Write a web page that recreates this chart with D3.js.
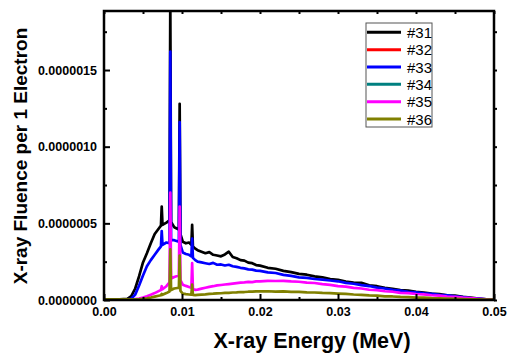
<!DOCTYPE html>
<html>
<head>
<meta charset="utf-8">
<script src="https://cdn.jsdelivr.net/npm/d3@7"></script>
<style>
  body { margin: 0; background: #fff; }
  svg { display: block; font-family: "Liberation Sans", Arial, sans-serif; }
</style>
</head>
<body>
<svg id="chart" width="508" height="356"></svg>
<script>
// energy grid (MeV)
const energy = [
  0, 0.001, 0.002, 0.003, 0.0035, 0.004, 0.0045, 0.005, 0.0055, 0.006, 0.0065, 0.007,
  0.0073, 0.0074, 0.0075, 0.008, 0.0084, 0.0085, 0.0086, 0.009, 0.0096, 0.0097, 0.0098,
  0.0101, 0.0105, 0.0109, 0.0112, 0.0113, 0.0114, 0.0117,
  0.012, 0.0125, 0.013, 0.0135, 0.014, 0.0145, 0.015, 0.0155, 0.016, 0.0165, 0.017,
  0.0175, 0.018, 0.0185, 0.019, 0.0195,
  0.020, 0.021, 0.022, 0.023, 0.024, 0.025, 0.026, 0.027, 0.028, 0.029, 0.030,
  0.031, 0.032, 0.033, 0.034, 0.035, 0.036, 0.037, 0.038, 0.039, 0.040,
  0.041, 0.042, 0.043, 0.044, 0.045, 0.046, 0.047, 0.048, 0.049, 0.050
]

// fluence values, in units of 1e-7 per electron
const s31 = [
  0.04, 0.04, 0.05, 0.08, 0.25, 0.75, 1.55, 2.45, 3.05, 3.7, 4.3, 4.65,
  4.85, 6.1, 4.9, 5.05, 5.2, 19.6, 5.1, 4.75, 4.6, 12.8, 4.3,
  3.8, 3.7, 3.75, 3.6, 4.9, 3.5, 3.35,
  3.25, 3.15, 3.05, 3.12, 2.95, 2.9, 2.85, 2.97, 3.15, 2.8, 2.72,
  2.6, 2.57, 2.44, 2.4, 2.28,
  2.24, 2.1, 2.04, 1.9, 1.82, 1.7, 1.65, 1.54, 1.48, 1.36, 1.32,
  1.2, 1.14, 1.12, 0.96, 0.9, 0.79, 0.73, 0.65, 0.62, 0.53,
  0.49, 0.42, 0.39, 0.31, 0.28, 0.2, 0.16, 0.1, 0.05, 0.01
]
const s32 = s31.slice()
const s33 = [
  0.04, 0.04, 0.04, 0.05, 0.08, 0.35, 0.95, 1.6, 2.2, 2.6, 2.95, 3.3,
  3.5, 4.5, 3.6, 3.75, 3.7, 16.2, 3.9, 3.9, 3.8, 11.6, 3.6,
  3.1, 3.0, 2.95, 2.85, 4.0, 2.75, 2.6,
  2.5, 2.45, 2.4, 2.35, 2.42, 2.3, 2.32, 2.25, 2.3, 2.2, 2.16,
  2.1, 2.06, 2.0, 1.98, 1.92,
  1.9, 1.8, 1.76, 1.64, 1.57, 1.48, 1.44, 1.37, 1.33, 1.27, 1.22,
  1.12, 1.06, 0.97, 0.91, 0.81, 0.75, 0.66, 0.61, 0.54, 0.5,
  0.43, 0.4, 0.33, 0.3, 0.24, 0.19, 0.13, 0.09, 0.05, 0.01
]
const s35 = [
  0.04, 0.04, 0.04, 0.04, 0.05, 0.06, 0.1, 0.16, 0.25, 0.35, 0.45, 0.58,
  0.65, 0.9, 0.7, 0.9, 1.15, 7.0, 1.4, 1.5, 1.6, 6.1, 1.3,
  1.0, 0.92, 0.85, 0.8, 2.4, 0.72, 0.66,
  0.68, 0.74, 0.8, 0.86, 0.9, 0.95, 0.98, 1.01, 1.04, 1.07, 1.1,
  1.13, 1.15, 1.18, 1.17, 1.21,
  1.22, 1.25, 1.24, 1.25, 1.21, 1.19, 1.13, 1.11, 1.03, 0.99, 0.91,
  0.87, 0.79, 0.75, 0.67, 0.64, 0.57, 0.54, 0.47, 0.45, 0.39,
  0.37, 0.31, 0.29, 0.23, 0.21, 0.15, 0.12, 0.08, 0.05, 0.01
]
const s36 = [
  0.04, 0.04, 0.04, 0.04, 0.04, 0.05, 0.06, 0.08, 0.11, 0.16, 0.22, 0.28,
  0.31, 0.4, 0.34, 0.45, 0.55, 3.3, 0.65, 0.75, 0.8, 2.9, 0.6,
  0.42, 0.38, 0.36, 0.35, 1.0, 0.34, 0.32,
  0.33, 0.35, 0.37, 0.4, 0.41, 0.43, 0.44, 0.46, 0.47, 0.49, 0.5,
  0.52, 0.52, 0.54, 0.55, 0.56,
  0.56, 0.57, 0.55, 0.56, 0.53, 0.53, 0.5, 0.49, 0.46, 0.45, 0.42,
  0.4, 0.36, 0.34, 0.3, 0.28, 0.24, 0.23, 0.2, 0.19, 0.16,
  0.15, 0.12, 0.11, 0.09, 0.08, 0.06, 0.05, 0.04, 0.03, 0.02
]
const s34 = s36.slice()

const series_names = ["#31", "#32", "#33", "#34", "#35", "#36"]
const series_values = [s31, s32, s33, s34, s35, s36]
const series_colors = ["#000000", "#ff0000", "#0000ff", "#008080", "#ff00ff", "#808000"]
// #32 lies under #31, #34 under #36 (drawn thinner so no fringe shows)
const draw_order = [1, 0, 2, 3, 4, 5]
const hidden = [1, 3]

const x_ticks = [0, 0.01, 0.02, 0.03, 0.04, 0.05]
const x_minor = [0.005, 0.015, 0.025, 0.035, 0.045]
const y_ticks = [0, 5e-7, 10e-7, 15e-7]
const y_minor = [2.5e-7, 7.5e-7, 12.5e-7, 17.5e-7]

const unit = 1e-7
const margin = {top: 11, right: 14, bottom: 56, left: 104}
const width = 508 - margin.left - margin.right
const height = 356 - margin.top - margin.bottom

const svg = d3.select("#chart")
const g = svg.append("g").attr("transform", `translate(${margin.left},${margin.top})`)

const x = d3.scaleLinear().domain([0, 0.05]).range([0, width])
const y = d3.scaleLinear().domain([0, 18.85e-7]).range([height, 0])

svg.append("defs").append("clipPath").attr("id", "plot-clip")
  .append("rect").attr("width", width).attr("height", height)

// curves
const line = d3.line()
  .x((d, i) => x(energy[i]))
  .y(d => y(d * unit))

const curves = g.append("g").attr("clip-path", "url(#plot-clip)")
draw_order.forEach(k => {
  curves.append("path")
    .datum(series_values[k])
    .attr("fill", "none")
    .attr("stroke", series_colors[k])
    .attr("stroke-width", hidden.includes(k) ? 1.2 : 2.7)
    .attr("stroke-linejoin", "round")
    .attr("d", line)
})

// axes
function style_axis(sel) {
  sel.select(".domain").remove()
  sel.selectAll(".tick line").attr("stroke", "#000").attr("stroke-width", 2)
  sel.selectAll(".tick text")
    .attr("fill", "#000")
    .attr("font-size", "12.5px")
    .attr("font-weight", "bold")
}

g.append("g")
  .attr("transform", `translate(0,${height})`)
  .call(d3.axisBottom(x).tickValues(x_ticks).tickFormat(d3.format(".2f")).tickSize(-6).tickPadding(7))
  .call(style_axis)
g.append("g")
  .attr("transform", `translate(0,${height})`)
  .call(d3.axisBottom(x).tickValues(x_minor).tickFormat("").tickSize(-3))
  .call(style_axis)

g.append("g")
  .call(d3.axisLeft(y).tickValues(y_ticks).tickFormat(d3.format(".7f")).tickSize(-6).tickPadding(7))
  .call(style_axis)
g.append("g")
  .call(d3.axisLeft(y).tickValues(y_minor).tickFormat("").tickSize(-3))
  .call(style_axis)

// mirrored ticks on top and right
g.append("g")
  .call(d3.axisTop(x).tickValues(x_ticks.concat(x_minor)).tickFormat("").tickSize(-3))
  .call(style_axis)
g.append("g")
  .attr("transform", `translate(${width},0)`)
  .call(d3.axisRight(y).tickValues(y_ticks.concat(y_minor)).tickFormat("").tickSize(3))
  .call(style_axis)

// frame
g.append("rect")
  .attr("width", width)
  .attr("height", height)
  .attr("fill", "none")
  .attr("stroke", "#000")
  .attr("stroke-width", 2.5)

// axis titles
svg.append("text")
  .attr("x", 312)
  .attr("y", 348)
  .attr("text-anchor", "middle")
  .attr("font-size", "21.5px")
  .attr("font-weight", "bold")
  .text("X-ray Energy (MeV)")

svg.append("text")
  .attr("transform", "translate(27,156) rotate(-90)")
  .attr("text-anchor", "middle")
  .attr("font-size", "19px")
  .attr("font-weight", "bold")
  .text("X-ray Fluence per 1 Electron")

// legend
const legend = svg.append("g").attr("transform", "translate(366,23)")
legend.append("rect")
  .attr("width", 66)
  .attr("height", 104)
  .attr("fill", "#fff")
  .attr("stroke", "#555")
  .attr("stroke-width", 1)

const entry = legend.selectAll("g.entry")
  .data(series_names)
  .join("g")
  .attr("class", "entry")
  .attr("transform", (d, i) => `translate(0,${9.3 + i * 17.35})`)
entry.append("line")
  .attr("x1", 1).attr("x2", 35)
  .attr("stroke", (d, i) => series_colors[i])
  .attr("stroke-width", 3)
entry.append("text")
  .attr("x", 41)
  .attr("y", 5.5)
  .attr("font-size", "15px")
  .attr("fill", "#000")
  .text(d => d)
</script>
</body>
</html>
